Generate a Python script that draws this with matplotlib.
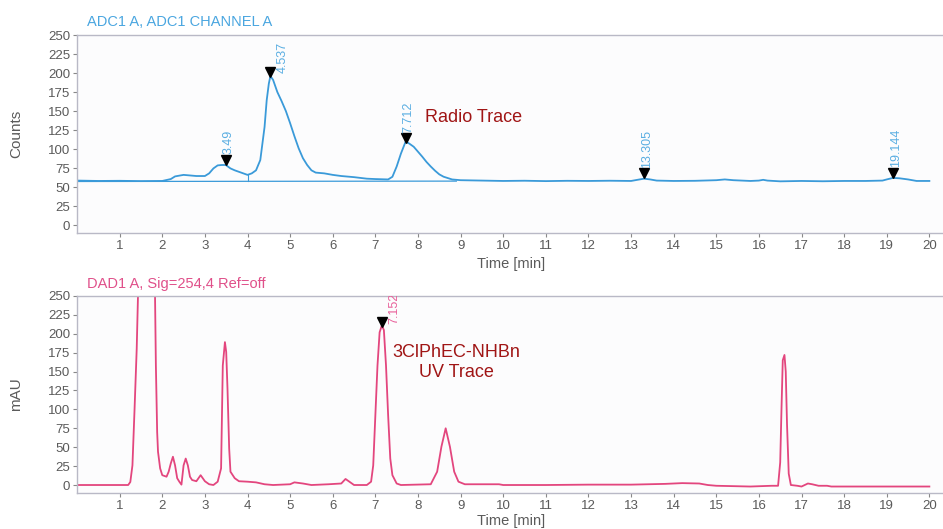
import matplotlib
matplotlib.use("Agg")
import matplotlib.pyplot as plt

plt.rcParams['font.family'] = ['Liberation Sans', 'DejaVu Sans']

# ---- Radio detector trace (ADC1 channel A) ----
radio_time = [0.0, 0.5, 1.0, 1.5, 2.0, 2.2, 2.3, 2.5, 2.8, 3.0, 3.1, 3.2, 3.3, 3.4,
              3.49, 3.6, 3.7, 3.8, 3.9, 4.0, 4.1, 4.2, 4.3, 4.4, 4.45, 4.5, 4.537,
              4.6, 4.7, 4.8, 4.9, 5.0, 5.1, 5.2, 5.3, 5.4, 5.5, 5.6, 5.8, 6.0, 6.2,
              6.5, 6.8, 7.0, 7.3, 7.4, 7.5, 7.6, 7.712, 7.8, 7.9, 8.0, 8.1, 8.2,
              8.3, 8.4, 8.5, 8.6, 8.8, 9.0, 9.5, 10.0, 10.5, 11.0, 11.5, 12.0,
              12.5, 13.0, 13.2, 13.305, 13.45, 13.6, 14.0, 14.5, 15.0, 15.2, 15.4,
              15.8, 16.0, 16.1, 16.2, 16.5, 17.0, 17.5, 18.0, 18.5, 18.9, 19.0,
              19.144, 19.3, 19.5, 19.7, 20.0]
radio_counts = [58.5, 58.0, 58.2, 57.8, 58.0, 60.5, 64.0, 66.0, 64.5, 64.5, 68.0,
                74.5, 78.5, 79.0, 79.0, 74.5, 72.0, 70.0, 68.0, 66.0, 68.0, 72.0,
                85.5, 129.0, 164.0, 186.0, 196.0, 191.0, 175.0, 163.0, 150.0,
                134.0, 117.0, 101.0, 88.0, 79.0, 72.0, 69.0, 68.0, 66.0, 64.5,
                63.0, 61.0, 60.5, 60.0, 63.5, 77.0, 94.0, 110.0, 107.0, 103.0,
                96.5, 90.0, 83.0, 77.0, 71.5, 66.7, 63.6, 60.0, 59.0, 58.5, 58.0,
                58.3, 57.8, 58.2, 58.0, 58.3, 58.0, 60.0, 61.0, 60.0, 58.5, 58.0,
                58.2, 59.0, 60.0, 59.0, 58.0, 58.5, 59.5, 58.5, 57.5, 58.0, 57.6,
                58.0, 58.0, 58.5, 60.0, 62.0, 61.5, 60.0, 58.0, 58.0]
radio_baseline_time = [0.0, 8.9]
radio_baseline_counts = [57.3, 57.8]
radio_split_time = [4.0, 4.0]
radio_split_counts = [57.5, 66.0]

radio_peak_rt = [3.49, 4.537, 7.712, 13.305, 19.144]
radio_peak_marker = [85.5, 201.5, 114.0, 68.0, 68.5]
radio_peak_labels = ["3.49", "4.537", "7.712", "13.305", "19.144"]

# ---- UV trace (DAD1 A, 254 nm) ----
uv_time = [0.0, 0.5, 1.0, 1.2, 1.25, 1.3, 1.35, 1.4, 1.43, 1.5, 1.6, 1.7, 1.8,
           1.83, 1.85, 1.88, 1.9, 1.95, 2.0, 2.1, 2.15, 2.2, 2.25, 2.3, 2.35,
           2.4, 2.45, 2.5, 2.55, 2.6, 2.65, 2.7, 2.8, 2.9, 3.0, 3.1, 3.2, 3.3,
           3.38, 3.42, 3.47, 3.5, 3.53, 3.57, 3.6, 3.7, 3.8, 4.0, 4.2, 4.4, 4.6,
           5.0, 5.1, 5.3, 5.5, 5.9, 6.2, 6.3, 6.4, 6.5, 6.8, 6.9, 6.95, 7.0,
           7.05, 7.1, 7.152, 7.2, 7.25, 7.3, 7.35, 7.4, 7.5, 7.6, 8.3, 8.45,
           8.55, 8.65, 8.75, 8.85, 8.95, 9.1, 9.9, 10.0, 11.0, 12.0, 13.0, 13.8,
           14.2, 14.6, 14.8, 15.0, 15.8, 16.3, 16.45, 16.5, 16.53, 16.56, 16.6,
           16.63, 16.66, 16.7, 16.75, 16.9, 17.0, 17.15, 17.25, 17.4, 17.6,
           17.7, 18.0, 19.0, 20.0]
uv_mau = [0.0, 0.0, 0.0, 0.0, 4.0, 26.0, 101.0, 180.0, 250.0, 290.0, 300.0,
          300.0, 290.0, 250.0, 158.0, 70.0, 44.0, 22.0, 13.0, 11.0, 17.6, 28.6,
          37.4, 26.0, 9.0, 4.4, 0.5, 26.0, 35.0, 26.0, 11.0, 6.6, 5.0, 13.0,
          5.0, 1.0, 0.0, 4.4, 22.0, 158.0, 189.0, 176.0, 128.0, 48.0, 17.6, 9.0,
          5.0, 4.4, 3.5, 1.0, 0.0, 1.0, 3.5, 2.0, 0.0, 1.0, 2.0, 8.0, 4.0, 0.0,
          0.0, 4.4, 26.0, 92.0, 158.0, 202.0, 211.0, 205.0, 158.0, 92.0, 35.0,
          13.0, 2.0, 0.0, 1.0, 17.6, 50.6, 75.0, 50.6, 17.6, 4.4, 1.0, 1.0, 0.0,
          0.0, 0.5, 0.5, 1.5, 2.5, 2.0, 0.0, -1.0, -2.0, -1.0, -1.0, 30.0,
          100.0, 165.0, 172.0, 150.0, 80.0, 15.0, 0.0, -1.0, -2.0, 2.0, 1.0,
          -1.0, -1.0, -2.0, -2.0, -2.0, -2.0]

uv_peak_rt = [7.152]
uv_peak_marker = [215.0]
uv_peak_labels = ["7.152"]

x_ticks = list(range(1, 21))
y_ticks = list(range(0, 251, 25))

blue = "#3a9ad9"
label_blue = "#5aaee2"
pink = "#e3467e"
dark_red = "#a01515"
spine_col = "#b9b9c6"
tick_col = "#5a5a5a"

fig = plt.figure(figsize=(9.43, 5.29), dpi=100, facecolor="white")
ax_top = fig.add_axes([0.0817, 0.5595, 0.9183, 0.3743])
ax_bot = fig.add_axes([0.0817, 0.0680, 0.9183, 0.3725])


def style_axes(ax, ylabel, ylo):
    ax.set_facecolor("#fcfcfd")
    ax.set_xlim(0, 20.32)
    ax.set_ylim(ylo, 250)
    ax.set_xticks(x_ticks)
    ax.set_yticks(y_ticks)
    ax.tick_params(axis="both", colors=tick_col, labelsize=9.5, length=3,
                   width=0.8, direction="out", pad=2)
    ax.tick_params(axis="both", color="#888888")
    for side in ("left", "bottom", "top"):
        ax.spines[side].set_color(spine_col)
        ax.spines[side].set_linewidth(1.0)
    ax.spines["right"].set_visible(False)
    ax.set_ylabel(ylabel, fontsize=11, color=tick_col)
    ax.yaxis.set_label_coords(-0.062, 0.5)
    ax.set_xlabel("Time [min]", fontsize=10.5, color=tick_col)


style_axes(ax_top, "Counts", -10.5)
style_axes(ax_bot, "mAU", -10.6)
ax_top.xaxis.set_label_coords(0.501, -0.12)
ax_bot.xaxis.set_label_coords(0.501, -0.108)

# traces
ax_top.plot(radio_time, radio_counts, color=blue, lw=1.3)
ax_top.plot(radio_baseline_time, radio_baseline_counts, color=blue, lw=0.9)
ax_top.plot(radio_split_time, radio_split_counts, color=blue, lw=0.8)
ax_bot.plot(uv_time, uv_mau, color=pink, lw=1.3)


def mark_peaks(ax, rts, ys, labels, color, shifted):
    ax.plot(rts, ys, linestyle="none", marker="v", color="black",
            markersize=7, clip_on=False)
    for rt, y, lab in zip(rts, ys, labels):
        if lab in shifted:
            offset = (9, -1)
        else:
            offset = (2, 4)
        ax.annotate(lab, xy=(rt, y), xytext=offset, textcoords="offset points",
                    rotation=90, ha="center", va="bottom", fontsize=9,
                    color=color, annotation_clip=False, clip_on=True)


mark_peaks(ax_top, radio_peak_rt, radio_peak_marker, radio_peak_labels,
           label_blue, {"4.537"})
mark_peaks(ax_bot, uv_peak_rt, uv_peak_marker, uv_peak_labels, "#e8609a",
           {"7.152"})

# channel headers
fig.text(0.092, 0.958, "ADC1 A, ADC1 CHANNEL A", color="#4aa6e0", fontsize=10.5,
         ha="left", va="center")
fig.text(0.092, 0.463, "DAD1 A, Sig=254,4 Ref=off", color="#e0508a",
         fontsize=10.5, ha="left", va="center")

# trace annotations
ax_top.text(8.16, 142, "Radio Trace", color=dark_red, fontsize=13,
            ha="left", va="center")
ax_bot.text(8.9, 162, "3ClPhEC-NHBn\nUV Trace", color=dark_red, fontsize=13,
            ha="center", va="center", linespacing=1.3)

fig.savefig("out.png", dpi=100, facecolor="white")
